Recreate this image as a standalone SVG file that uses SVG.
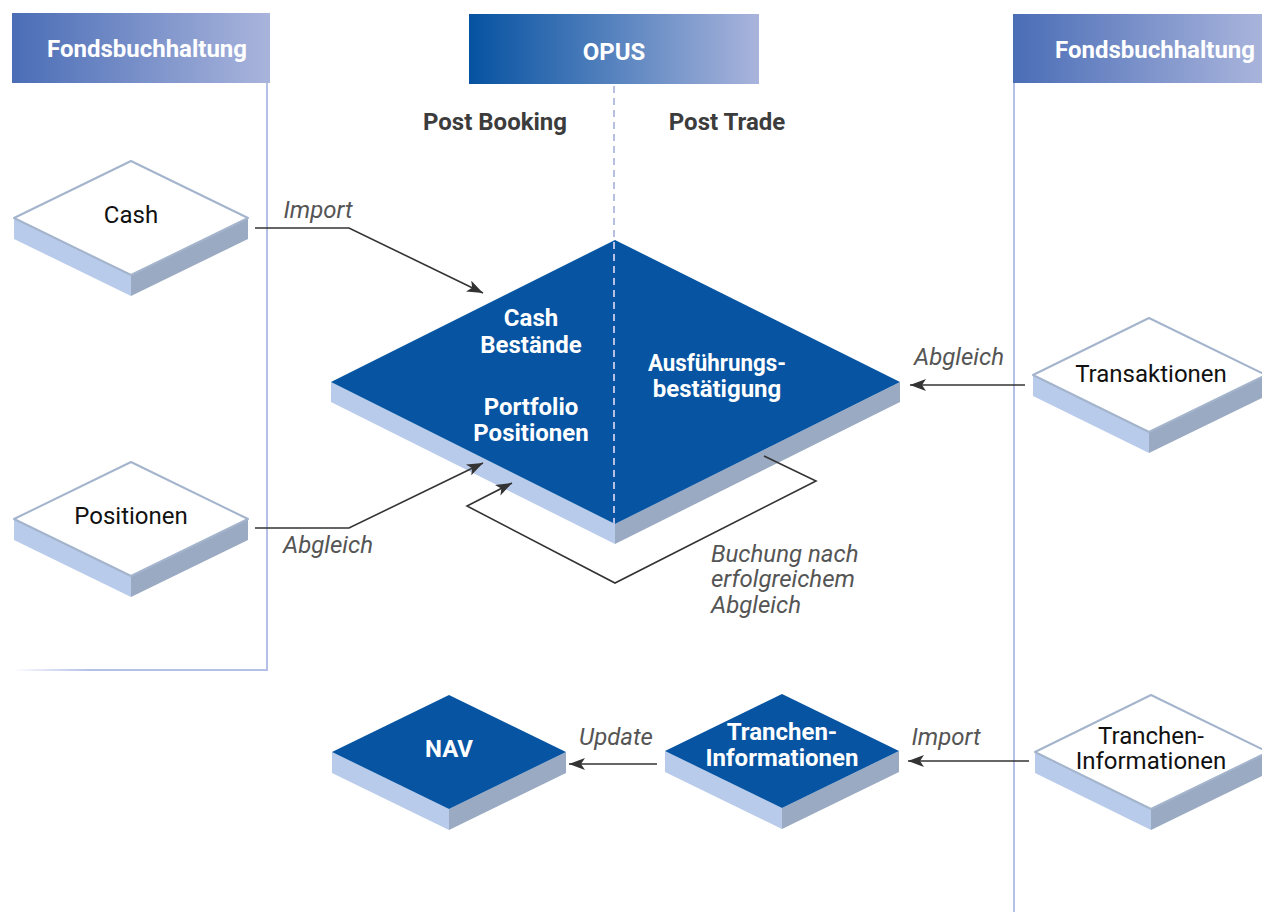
<svg xmlns="http://www.w3.org/2000/svg" width="1262" height="912" viewBox="0 0 1262 912">
<defs>
<linearGradient id="hdrA" x1="0" y1="0" x2="1" y2="0"><stop offset="0" stop-color="#4a6db6"/><stop offset="1" stop-color="#a9b4dc"/></linearGradient>
<linearGradient id="hdrB" x1="0" y1="0" x2="1" y2="0"><stop offset="0" stop-color="#0552a1"/><stop offset="1" stop-color="#a9b4dc"/></linearGradient>
<linearGradient id="fade" gradientUnits="userSpaceOnUse" x1="12" y1="0" x2="268" y2="0"><stop offset="0" stop-color="#b5c0e8" stop-opacity="0"/><stop offset="0.3" stop-color="#b5c0e8"/><stop offset="1" stop-color="#b5c0e8"/></linearGradient>
<marker id="arr" viewBox="0 0 16 12" refX="16" refY="6" markerWidth="16" markerHeight="12" markerUnits="userSpaceOnUse" orient="auto"><path d="M0,0 L16,6 L0,12 L4,6 Z" fill="#333"/></marker>
</defs>
<style>
.hdr{font-family:Roboto,"Liberation Sans",sans-serif;font-weight:bold;font-size:24px;fill:#fff;text-anchor:middle}
.sec{font-family:Roboto,"Liberation Sans",sans-serif;font-weight:bold;font-size:24px;fill:#3c3c3c;text-anchor:middle}
.lane{stroke:#b5c0e8;stroke-width:2;fill:none}
.top-w{fill:#fff;stroke:#a3b4cc;stroke-width:2;stroke-linejoin:round}
.top-b{fill:#0654a2}
.sl{fill:#b9cbea}
.sr{fill:#9aaac2}
.nt{font-family:Roboto,"Liberation Sans",sans-serif;font-size:24px;fill:#111;text-anchor:middle}
.bt{font-family:Roboto,"Liberation Sans",sans-serif;font-weight:bold;font-size:24px;fill:#fff;text-anchor:middle}
.lbl{font-family:Roboto,"Liberation Sans",sans-serif;font-style:italic;font-size:24px;fill:#555}
.con{stroke:#333;stroke-width:1.6;fill:none}
</style>

<g id="lane-left">
<rect x="12" y="13" width="258" height="70" fill="url(#hdrA)"/>
<text class="hdr" x="147" y="57">Fondsbuchhaltung</text>
<line class="lane" x1="267" y1="83" x2="267" y2="670"/>
<line x1="12" y1="670" x2="268" y2="670" stroke="url(#fade)" stroke-width="2"/>
</g>

<g id="lane-opus">
<rect x="469" y="14" width="290" height="70" fill="url(#hdrB)"/>
<text class="hdr" x="614" y="60">OPUS</text>
<line x1="614" y1="86" x2="614" y2="240" stroke="#b8c0e2" stroke-width="2" stroke-dasharray="7,5"/>
<text class="sec" x="495" y="130">Post Booking</text>
<text class="sec" x="727" y="130">Post Trade</text>
</g>

<g id="lane-right">
<rect x="1013" y="14" width="249" height="69" fill="url(#hdrA)"/>
<text class="hdr" x="1155" y="58">Fondsbuchhaltung</text>
<line class="lane" x1="1014" y1="83" x2="1014" y2="912"/>
</g>

<g id="node-cash">
<polygon class="sl" points="14,218 131,275 131,296 14,239"/>
<polygon class="sr" points="131,275 248,218 248,239 131,296"/>
<polygon class="top-w" points="131,161 248,218 131,275 14,218"/>
<text class="nt" x="131" y="223">Cash</text>
</g>

<g id="node-positionen">
<polygon class="sl" points="14,519 131,576 131,597 14,540"/>
<polygon class="sr" points="131,576 248,519 248,540 131,597"/>
<polygon class="top-w" points="131,462 248,519 131,576 14,519"/>
<text class="nt" x="131" y="524">Positionen</text>
</g>

<g id="node-opus-main">
<polygon class="sl" points="331,382 615,524 615,544 331,402"/>
<polygon class="sr" points="615,524 900,382 900,402 615,544"/>
<polygon class="top-b" points="615,240 900,382 615,524 331,382"/>
<line x1="614" y1="242" x2="614" y2="524" stroke="#b8c0e2" stroke-width="2" stroke-dasharray="7,5"/>
<text class="bt" x="531" y="326">Cash</text>
<text class="bt" x="531" y="353">Bestände</text>
<text class="bt" x="531" y="415">Portfolio</text>
<text class="bt" x="531" y="441">Positionen</text>
<text class="bt" x="717" y="371" textLength="138" lengthAdjust="spacingAndGlyphs">Ausführungs-</text>
<text class="bt" x="717" y="397">bestätigung</text>
</g>

<g id="node-transaktionen">
<polygon class="sl" points="1033,375 1149,432 1149,453 1033,396"/>
<polygon class="sr" points="1149,432 1266,375 1266,396 1149,453"/>
<polygon class="top-w" points="1149,318 1266,375 1149,432 1033,375"/>
<text class="nt" x="1151" y="382">Transaktionen</text>
</g>

<g id="node-nav">
<polygon class="sl" points="332,752 449,809 449,830 332,773"/>
<polygon class="sr" points="449,809 566,752 566,773 449,830"/>
<polygon class="top-b" points="449,695 566,752 449,809 332,752"/>
<text class="bt" x="449" y="757">NAV</text>
</g>

<g id="node-tranchen-opus">
<polygon class="sl" points="665,751 782,808 782,829 665,772"/>
<polygon class="sr" points="782,808 899,751 899,772 782,829"/>
<polygon class="top-b" points="782,694 899,751 782,808 665,751"/>
<text class="bt" x="782" y="740">Tranchen-</text>
<text class="bt" x="782" y="766">Informationen</text>
</g>

<g id="node-tranchen-fb">
<polygon class="sl" points="1035,752 1151,809 1151,830 1035,773"/>
<polygon class="sr" points="1151,809 1268,752 1268,773 1151,830"/>
<polygon class="top-w" points="1151,695 1268,752 1151,809 1035,752"/>
<text class="nt" x="1151" y="744">Tranchen-</text>
<text class="nt" x="1151" y="769">Informationen</text>
</g>

<g id="connectors">
<polyline class="con" points="255,228 349,228 483,293" marker-end="url(#arr)"/>
<polyline class="con" points="255,528 349,528 483,463" marker-end="url(#arr)"/>
<polyline class="con" points="764,456 816,481 615,583 467,506 512,483" marker-end="url(#arr)"/>
<line class="con" x1="1025" y1="385" x2="910" y2="385" marker-end="url(#arr)"/>
<line class="con" x1="657" y1="764" x2="569" y2="764" marker-end="url(#arr)"/>
<line class="con" x1="1029" y1="761" x2="908" y2="761" marker-end="url(#arr)"/>
<text class="lbl" x="318" y="218" text-anchor="middle">Import</text>
<text class="lbl" x="328" y="553" text-anchor="middle">Abgleich</text>
<text class="lbl" x="711" y="562">Buchung nach</text>
<text class="lbl" x="711" y="587">erfolgreichem</text>
<text class="lbl" x="711" y="613">Abgleich</text>
<text class="lbl" x="959" y="365" text-anchor="middle">Abgleich</text>
<text class="lbl" x="616" y="745" text-anchor="middle">Update</text>
<text class="lbl" x="946" y="745" text-anchor="middle">Import</text>
</g>
</svg>
